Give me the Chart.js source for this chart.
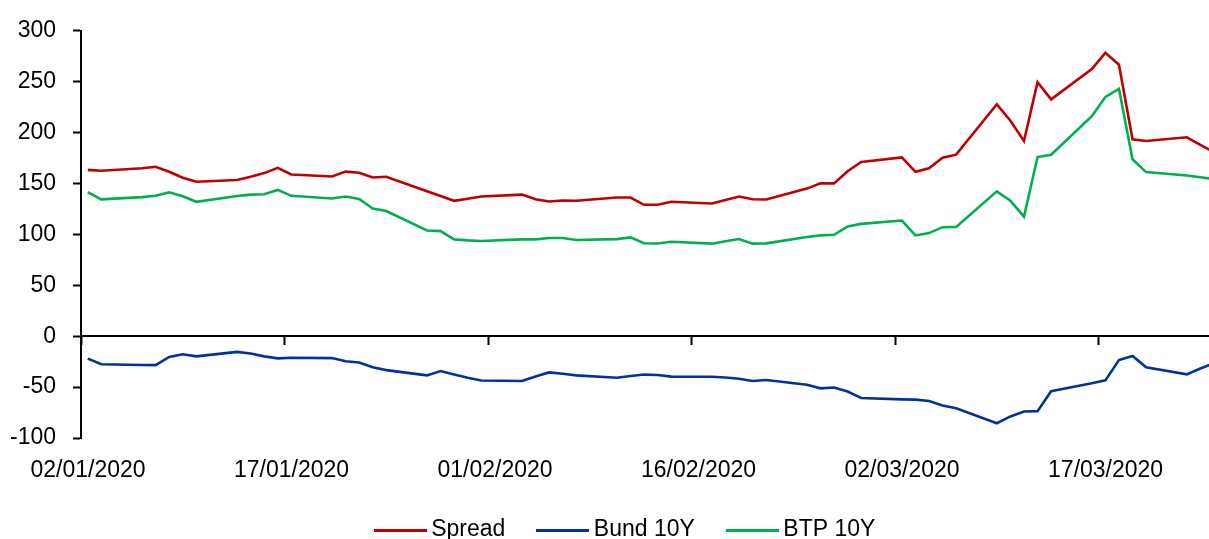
<!DOCTYPE html>
<html>
<head>
<meta charset="utf-8">
<script src="https://cdn.jsdelivr.net/npm/chart.js@4/dist/chart.umd.min.js"></script>
<style>
html,body{margin:0;padding:0;background:#fff;overflow:hidden;}
#wrap{width:1256px;height:539px;position:relative;}
canvas{display:block;}
</style>
</head>
<body>
<div id="wrap"><canvas id="c" width="1256" height="539"></canvas></div>
<script>
// ---- data (basis points) ----
const dates = [
 "2020-01-02","2020-01-03","2020-01-06","2020-01-07","2020-01-08","2020-01-09","2020-01-10",
 "2020-01-13","2020-01-14","2020-01-15","2020-01-16","2020-01-17",
 "2020-01-20","2020-01-21","2020-01-22","2020-01-23","2020-01-24",
 "2020-01-27","2020-01-28","2020-01-29","2020-01-30","2020-01-31",
 "2020-02-03","2020-02-04","2020-02-05","2020-02-06","2020-02-07",
 "2020-02-10","2020-02-11","2020-02-12","2020-02-13","2020-02-14",
 "2020-02-17","2020-02-18","2020-02-19","2020-02-20","2020-02-21",
 "2020-02-24","2020-02-25","2020-02-26","2020-02-27","2020-02-28",
 "2020-03-02","2020-03-03","2020-03-04","2020-03-05","2020-03-06",
 "2020-03-09","2020-03-10","2020-03-11","2020-03-12","2020-03-13",
 "2020-03-16","2020-03-17","2020-03-18","2020-03-19","2020-03-20",
 "2020-03-23","2020-03-24","2020-03-25"
];
const spread = [
 163.4,162.6,165.0,166.4,161.6,155.7,151.7,
 153.4,156.6,160.2,165.4,158.9,
 156.9,161.7,160.5,155.9,156.6,
 142.4,137.8,133.0,135.1,137.2,
 139.1,134.6,132.3,133.3,133.0,
 136.2,136.2,129.1,129.1,132.0,
 130.4,133.8,137.2,134.6,134.3,
 145.0,150.1,150.1,162.1,171.2,
 175.7,161.5,165.0,175.3,178.3,
 227.8,211.7,191.8,249.5,232.6,
 262.4,278.3,266.6,193.5,191.8,
 195.4,187.9,180.9
];
const bund10y = [
 -22.0,-27.6,-28.3,-28.4,-20.4,-17.8,-19.8,
 -15.4,-17.0,-19.8,-21.8,-21.2,
 -21.5,-24.6,-25.8,-30.4,-33.3,
 -38.5,-34.2,-37.6,-40.8,-43.5,
 -44.0,-39.5,-35.6,-36.9,-38.5,
 -40.8,-39.1,-37.7,-38.1,-39.7,
 -39.9,-40.6,-41.8,-44.0,-43.1,
 -47.6,-51.2,-50.4,-54.4,-60.7,
 -62.1,-62.3,-63.6,-68.1,-70.8,
 -85.5,-78.8,-74.0,-73.6,-54.1,
 -46.3,-43.4,-23.5,-19.5,-30.6,
 -37.5,-31.8,-26.6
];
const btp10y = [
 141.4,134.4,136.6,137.9,141.4,137.5,132.0,
 137.8,139.1,139.4,143.7,137.9,
 135.2,137.2,134.9,125.5,122.9,
 103.9,103.2,95.1,94.1,93.5,
 95.1,95.1,96.4,96.4,94.5,
 95.4,97.1,91.3,91.0,92.8,
 90.9,93.2,95.4,90.9,91.2,
 97.4,99.0,99.6,107.8,110.3,
 113.6,99.0,101.3,107.1,107.4,
 142.3,133.0,117.5,176.0,178.3,
 216.1,235.0,243.0,173.8,161.2,
 157.9,156.1,154.3
];
const tickLabels = ["02/01/2020","17/01/2020","01/02/2020","16/02/2020","02/03/2020","17/03/2020"];
const seriesNames = ["Spread","Bund 10Y","BTP 10Y"];
const seriesColors = ["#C00000","#003399","#00B050"];

// ---- helpers ----
const DAY = 86400000;
const t0 = Date.parse("2020-01-02T00:00:00Z");
const dayPos = d => (Date.parse(d + "T00:00:00Z") - t0) / DAY + 0.5; // Excel date axis: point sits mid-day
const toPoints = vals => dates.map((d, i) => ({x: dayPos(d), y: vals[i]}));
const xMax = 86.6; // axis runs past the right edge of the picture (chart is cropped)
const FONT = "'Liberation Sans',Arial,sans-serif";

function legendLine(color) {
  const c = document.createElement('canvas');
  c.width = 53; c.height = 3;
  const g = c.getContext('2d');
  g.fillStyle = color; g.fillRect(0, 0, 53, 3);
  return c;
}

const datasets = [spread, bund10y, btp10y].map((vals, i) => ({
  label: seriesNames[i],
  data: toPoints(vals),
  borderColor: seriesColors[i],
  backgroundColor: seriesColors[i],
  borderWidth: 2.6,
  pointRadius: 0,
  pointStyle: legendLine(seriesColors[i]),
  tension: 0,
  xAxisID: 'x',
  yAxisID: 'y'
}));

new Chart(document.getElementById('c'), {
  type: 'line',
  data: {datasets},
  options: {
    responsive: false,
    animation: false,
    events: [],
    layout: {padding: {top: 26, right: 0, left: 0, bottom: -12.5}},
    plugins: {
      tooltip: {enabled: false},
      legend: {
        position: 'bottom',
        labels: {
          usePointStyle: true,
          pointStyleWidth: 39,
          padding: 38,
          color: '#000',
          font: {family: FONT, size: 23}
        }
      }
    },
    scales: {
      x: {
        type: 'linear',
        position: 'bottom',
        min: 0, max: xMax,
        grid: {display: false, drawTicks: false},
        border: {display: false},
        afterFit: s => { s.height = 42.5; },
        ticks: {
          stepSize: 15,
          includeBounds: false,
          autoSkip: false,
          maxRotation: 0,
          labelOffset: 7,
          padding: 19,
          color: '#000',
          font: {family: FONT, size: 23},
          callback: v => (v % 15 === 0 && tickLabels[v / 15] ? tickLabels[v / 15] : '')
        }
      },
      x0: {
        type: 'linear',
        position: {y: 0},
        min: 0, max: xMax,
        ticks: {display: false, stepSize: 15, includeBounds: false},
        grid: {drawOnChartArea: false, drawTicks: true, tickLength: 8, tickColor: '#000', tickWidth: 2},
        border: {display: true, color: '#000', width: 2}
      },
      y: {
        type: 'linear',
        position: 'left',
        min: -100, max: 300,
        afterFit: s => { s.width = 81; },
        ticks: {
          stepSize: 50,
          padding: 17,
          color: '#000',
          font: {family: FONT, size: 23}
        },
        grid: {drawOnChartArea: false, drawTicks: true, tickLength: 8, tickColor: '#000', tickWidth: 2},
        border: {display: true, color: '#000', width: 2}
      }
    }
  }
});
</script>
</body>
</html>
